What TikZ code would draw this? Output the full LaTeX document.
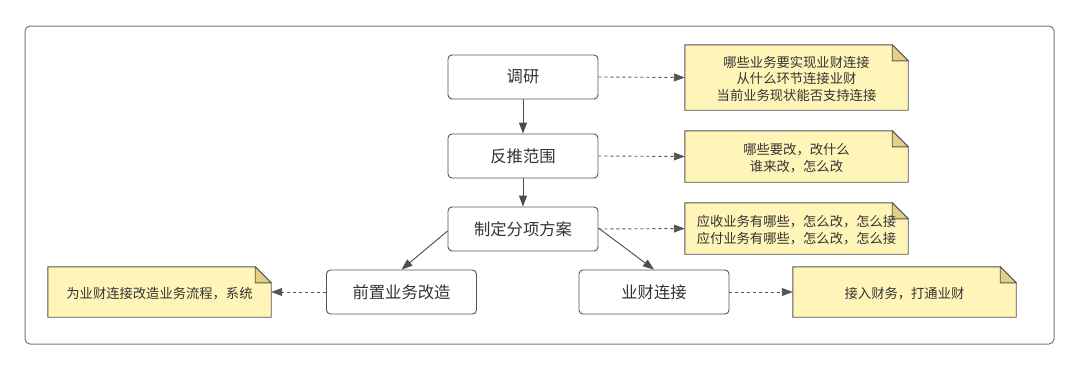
\documentclass[tikz,border=0pt]{standalone}
\usepackage{fontspec}
\setmainfont{Noto Sans CJK SC}
\usetikzlibrary{arrows.meta}
\definecolor{notefill}{HTML}{FFF5B8}
\definecolor{foldfill}{HTML}{E5CF86}
\definecolor{edge}{HTML}{555555}
\definecolor{txt}{HTML}{333333}
\tikzset{
  stepbox/.style={draw=edge, line width=0.9pt, rounded corners=4pt, fill=white,
    minimum width=150pt, minimum height=44pt, inner sep=0pt, text=txt,
    font=\fontsize{16.3}{19}\selectfont},
  notenode/.style={minimum height=#1, inner sep=0pt, text=txt, align=center,
    font=\fontsize{13.3}{16.6}\selectfont},
  noteshape/.style={draw=edge, line width=0.9pt, fill=notefill},
  foldshape/.style={draw=edge, line width=0.9pt, fill=foldfill, line join=round},
  flow/.style={draw=edge!90!black, line width=0.9pt, -{Triangle[length=11pt,width=8pt]}},
  dflow/.style={draw=edge, line width=0.9pt, dash pattern=on 3pt off 3pt, -{Triangle[length=11pt,width=8pt]}},
}
\newcommand{\drawnote}[1]{%
  \path[noteshape] (#1.south west) -- (#1.north west) -- ([xshift=-16pt]#1.north east)
    -- ([yshift=-16pt]#1.north east) -- (#1.south east) -- cycle;
  \path[foldshape] ([xshift=-16pt]#1.north east) -- ([xshift=-16pt,yshift=-16pt]#1.north east)
    -- ([yshift=-16pt]#1.north east) -- cycle;
}
\begin{document}
\begin{tikzpicture}[x=1pt,y=-1pt]
\useasboundingbox (0,0) rectangle (1080,370);
\fill[white] (0,0) rectangle (1080,370);
\draw[draw=edge!80, line width=1pt, rounded corners=5pt] (25,26) rectangle (1054,344);

% boxes
\node[stepbox] (dy) at (523,77) {调研};
\node[stepbox] (ft) at (523,156) {反推范围};
\node[stepbox] (zd) at (523,229) {制定分项方案};
\node[stepbox] (qz) at (401.5,292) {前置业务改造};
\node[stepbox] (yc) at (654,292) {业财连接};

% notes (geometry nodes)
\node[notenode=65pt, minimum width=223pt] (n1) at (796.5,77.5) {};
\node[notenode=51pt, minimum width=223pt] (n2) at (796.5,156.5) {};
\node[notenode=51pt, minimum width=223pt] (n3) at (796.5,228.5) {};
\node[notenode=50pt, minimum width=223pt] (n4) at (904.5,292) {};
\node[notenode=50pt, minimum width=223pt] (n5) at (159.5,292) {};
\drawnote{n1}
\drawnote{n2}
\drawnote{n3}
\drawnote{n4}
\drawnote{n5}
\node[notenode=0pt] (t1) at (796.5,78.8) {哪些业务要实现业财连接\\从什么环节连接业财\\当前业务现状能否支持连接};
\node[notenode=0pt] (t2) at (796.5,158) {哪些要改，改什么\\谁来改，怎么改};
\node[notenode=0pt] (t3) at (796.5,230) {应收业务有哪些，怎么改，怎么接\\应付业务有哪些，怎么改，怎么接};
\node[notenode=0pt] (t4) at (904.5,294) {接入财务，打通业财};
\node[notenode=0pt] (t5) at (159.5,294) {为业财连接改造业务流程，系统};

% connectors
\draw[flow] (dy) -- (ft);
\draw[flow] (ft) -- (zd);
\draw[flow] (zd.west |- 0,231) -- (qz.north);
\draw[flow] (zd.east |- 0,228) -- (yc.north);
\draw[dflow] (dy.east) -- (n1.west);
\draw[dflow] (ft.east) -- (n2.west);
\draw[dflow] (zd.east) -- (n3.west);
\draw[dflow] (yc.east) -- (n4.west);
\draw[dflow] (qz.west) -- (n5.east);
\end{tikzpicture}
\end{document}
